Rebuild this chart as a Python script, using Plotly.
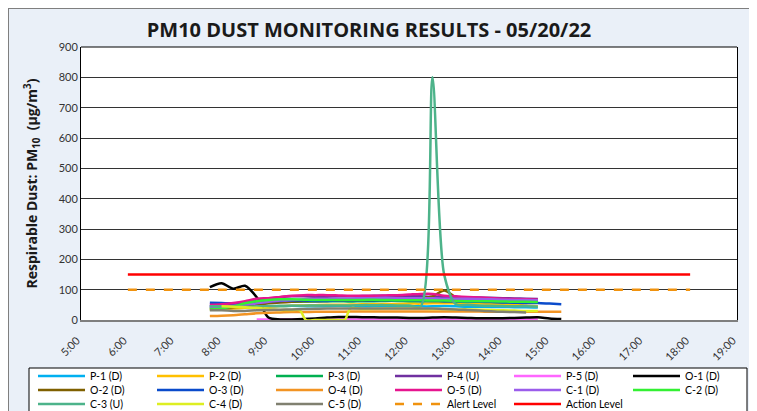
import plotly.graph_objects as go

# ---------------- data ----------------
hours = [7.75, 8.0, 8.25, 8.5, 8.75, 9.0, 9.25, 9.5, 9.75, 10.0, 10.25, 10.5, 10.75, 11.0,
         11.25, 11.5, 11.75, 12.0, 12.25, 12.5, 12.75, 13.0, 13.25, 13.5, 13.75, 14.0,
         14.25, 14.5, 14.75, 15.0, 15.25]
N = None
p1 = [48, 47, 46, 45, 44, 45, 46, 47, 46, 45, 46, 47, 46, 45, 46, 47, 46, 46, 45, 45, 46, 45, 44, 44, 43, 43, 42, 42, 41, N, N]
p2 = [35, 36, 38, 40, 42, 44, 46, 47, 48, 49, 50, 50, 51, 52, 52, 53, 53, 54, 54, 55, 55, 55, 54, 54, 53, 52, 50, 48, 45, N, N]
p3 = [40, 42, 45, 50, 55, 58, 60, 60, 61, 62, 62, 62, 61, 62, 62, 63, 63, 62, 62, 63, 62, 62, 61, 60, 60, 59, 58, 58, 57, N, N]
p4 = [45, 48, 52, 58, 65, 70, 75, 78, 78, 77, 77, 78, 78, 79, 80, 80, 80, 80, 78, 76, 76, 75, 75, 74, 73, 72, 71, 70, 69, N, N]
p5 = [N, N, N, N, 2, 2, 2, 2, 2, 2, 2, 2, 2, 2, 2, 2, 2, 2, 2, 2, 2, 2, 2, 2, 2, 2, 2, 2, 2, N, N]
o1 = [108, 121, 103, 113, 75, 8, 2, 2, 3, 5, 8, 10, 10, 9, 9, 8, 8, 7, 7, 8, 9, 8, 7, 6, 6, 6, 7, 8, 9, 5, 3]
o2 = [38, 40, 42, 45, 50, 55, 58, 60, 62, 62, 63, 64, 64, 65, 66, 66, 67, 68, 72, 78, 97, 76, 72, 70, 69, 68, 67, 66, 65, N, N]
o3 = [57, 56, 55, 58, 60, 62, 63, 64, 64, 63, 63, 64, 64, 65, 65, 65, 64, 64, 63, 63, 62, 62, 61, 60, 59, 58, 57, 56, 56, 54, 52]
o4 = [13, 14, 16, 19, 22, 24, 25, 26, 26, 27, 27, 27, 28, 28, 28, 28, 28, 28, 28, 28, 28, 28, 28, 28, 27, 27, 27, 27, 27, 27, 27]
o5 = [50, 52, 56, 62, 70, 72, 76, 80, 82, 82, 82, 81, 80, 80, 80, 81, 82, 84, 86, 86, 80, 78, 76, 74, 72, 70, 69, 68, 67, N, N]
c1 = [42, 44, 46, 50, 55, 60, 64, 66, 68, 70, 70, 71, 71, 72, 72, 73, 72, 72, 72, 72, 70, 70, 70, 69, 68, 67, 66, 66, 65, N, N]
c2 = [35, 38, 45, 55, 62, 66, 68, 68, 67, 66, 66, 66, 66, 66, 67, 66, 65, 65, 65, 64, 64, 63, 62, 62, 62, 61, 60, 60, 59, N, N]
c3 = [45, 45, 44, 44, 45, 46, 46, 47, 47, 48, 48, 48, 48, 49, 49, 49, 48, 48, 45, 800, 150, 52, 50, 48, 47, 46, 45, 45, 44, N, N]
c5 = [32, 32, 30, 30, 32, 33, 34, 35, 36, 37, 38, 38, 38, 38, 38, 38, 38, 38, 38, 38, 36, 35, 33, 31, 29, 27, 26, 25, N, N, N]

c4_hours = [8.0, 8.25, 8.5, 8.75, 9.0, 9.25, 9.5, 9.67, 9.8, 10.0, 10.25, 10.5, 10.63, 10.75,
            11.0, 11.25, 11.5, 11.75, 12.0, 12.25, 12.5, 12.75, 13.0, 13.25, 13.5, 13.75,
            14.0, 14.25, 14.5, 14.75]
c4 = [45, 44, 42, 40, 36, 33, 33, 32, 0, 0, 0, 0, 0, 38, 36, 37, 38, 38, 38, 37, 36, 36, 35,
      35, 34, 33, 32, 31, 30, 30]

level_hours = [6.0, 18.0]
alert_level = [100, 100]
action_level = [150, 150]

tick_hours = list(range(5, 20))
tick_labels = [f"{h}:00" for h in tick_hours]

series = [
    ("P-1 (D)", hours, p1, "#00B0F0"),
    ("P-2 (D)", hours, p2, "#FFC000"),
    ("P-3 (D)", hours, p3, "#00B050"),
    ("P-4 (U)", hours, p4, "#7030A0"),
    ("P-5 (D)", hours, p5, "#FF66FF"),
    ("O-1 (D)", hours, o1, "#000000"),
    ("O-2 (D)", hours, o2, "#7F6000"),
    ("O-3 (D)", hours, o3, "#0A4BCB"),
    ("O-4 (D)", hours, o4, "#F29423"),
    ("O-5 (D)", hours, o5, "#E6158F"),
    ("C-1 (D)", hours, c1, "#9B5DEB"),
    ("C-2 (D)", hours, c2, "#33F033"),
    ("C-3 (U)", hours, c3, "#4DB38A"),
    ("C-4 (D)", c4_hours, c4, "#DDEE22"),
    ("C-5 (D)", hours, c5, "#808070"),
]

# ---------------- layout geometry (figure pixels) ----------------
W, H = 757, 411
ML, MR, MT, MB = 73, 28, 39, 99
PW = W - ML - MR
PH = H - MT - MB


def px_x(px):
    return (px - ML) / PW


def px_y(py):
    return (H - MB - py) / PH


FONT = "Lato, 'Open Sans', Arial, sans-serif"
legend_ids = ["legend", "legend2", "legend3"]

fig = go.Figure()
for i, (name, xs, ys, col) in enumerate(series):
    fig.add_trace(go.Scatter(x=xs, y=ys, name=name, mode="lines",
                             legend=legend_ids[i // 6],
                             line=dict(color=col, width=2.5, shape="spline", smoothing=0.8),
                             connectgaps=False))
fig.add_trace(go.Scatter(x=level_hours, y=alert_level, name="Alert Level", mode="lines",
                         legend="legend3",
                         line=dict(color="#F0920E", width=2.5, dash="dash")))
fig.add_trace(go.Scatter(x=level_hours, y=action_level, name="Action Level", mode="lines",
                         legend="legend3",
                         line=dict(color="#FF0000", width=2.5)))

shapes = [
    # chart-area border (top and left edge)
    dict(type="line", xref="paper", yref="paper", x0=px_x(0), x1=px_x(W), y0=px_y(0.5), y1=px_y(0.5),
         line=dict(color="#7F7F7F", width=1), layer="above"),
    dict(type="line", xref="paper", yref="paper", x0=px_x(0.5), x1=px_x(0.5), y0=px_y(0), y1=px_y(H),
         line=dict(color="#7F7F7F", width=1), layer="above"),
    # plot-area top border
    dict(type="line", xref="paper", yref="paper", x0=0, x1=1, y0=1, y1=1,
         line=dict(color="black", width=1), layer="above"),
    # legend box
    dict(type="rect", xref="paper", yref="paper", x0=px_x(21), x1=px_x(739), y0=px_y(360), y1=px_y(425),
         fillcolor="white", line=dict(color="black", width=1), layer="above"),
]

row_centers = [368, 382, 396]
legend_common = dict(orientation="h", x=px_x(25), xanchor="left", yanchor="middle",
                     bgcolor="rgba(0,0,0,0)", borderwidth=0,
                     font=dict(family=FONT, size=10.5, color="black"),
                     itemwidth=47, entrywidth=57, entrywidthmode="pixels",
                     traceorder="normal")

fig.update_layout(
    width=W, height=H,
    margin=dict(l=ML, r=MR, t=MT, b=MB, autoexpand=False),
    paper_bgcolor="#EAF0F8",
    plot_bgcolor="white",
    font=dict(family=FONT, size=11, color="#262626"),
    title=dict(text="<b>PM10 DUST MONITORING RESULTS - 05/20/22</b>",
               x=px_x(361), xref="paper", xanchor="center",
               y=1 - 22 / H, yref="container", yanchor="middle",
               font=dict(family="'Open Sans', Lato, sans-serif", size=20, color="#1a1a1a")),
    xaxis=dict(range=[5, 19], tickvals=tick_hours, ticktext=tick_labels, tickangle=-45,
               showgrid=False, zeroline=False, showline=True, linecolor="#7F7F7F", linewidth=2,
               ticks="", tickfont=dict(size=11, color="#333333"), fixedrange=True,
               ticklabelstandoff=8, ticklabelshift=-4),
    yaxis=dict(range=[0, 900], dtick=100, showgrid=True, gridcolor="#333333", gridwidth=1,
               zeroline=False, showline=True, linecolor="black", linewidth=1, mirror=True,
               ticks="", tickfont=dict(size=11, color="#333333"),
               title=dict(text="<b>Respirable Dust: PM<sub>10</sub>  (µg/m<sup>3</sup>)</b>",
                          font=dict(family="'Open Sans', Lato, sans-serif", size=14, color="#1a1a1a"),
                          standoff=17)),
    legend=dict(y=px_y(row_centers[0]), **legend_common),
    legend2=dict(y=px_y(row_centers[1]), **legend_common),
    legend3=dict(y=px_y(row_centers[2]), **legend_common),
    shapes=shapes,
    showlegend=True,
)

fig.write_html("out.html")
